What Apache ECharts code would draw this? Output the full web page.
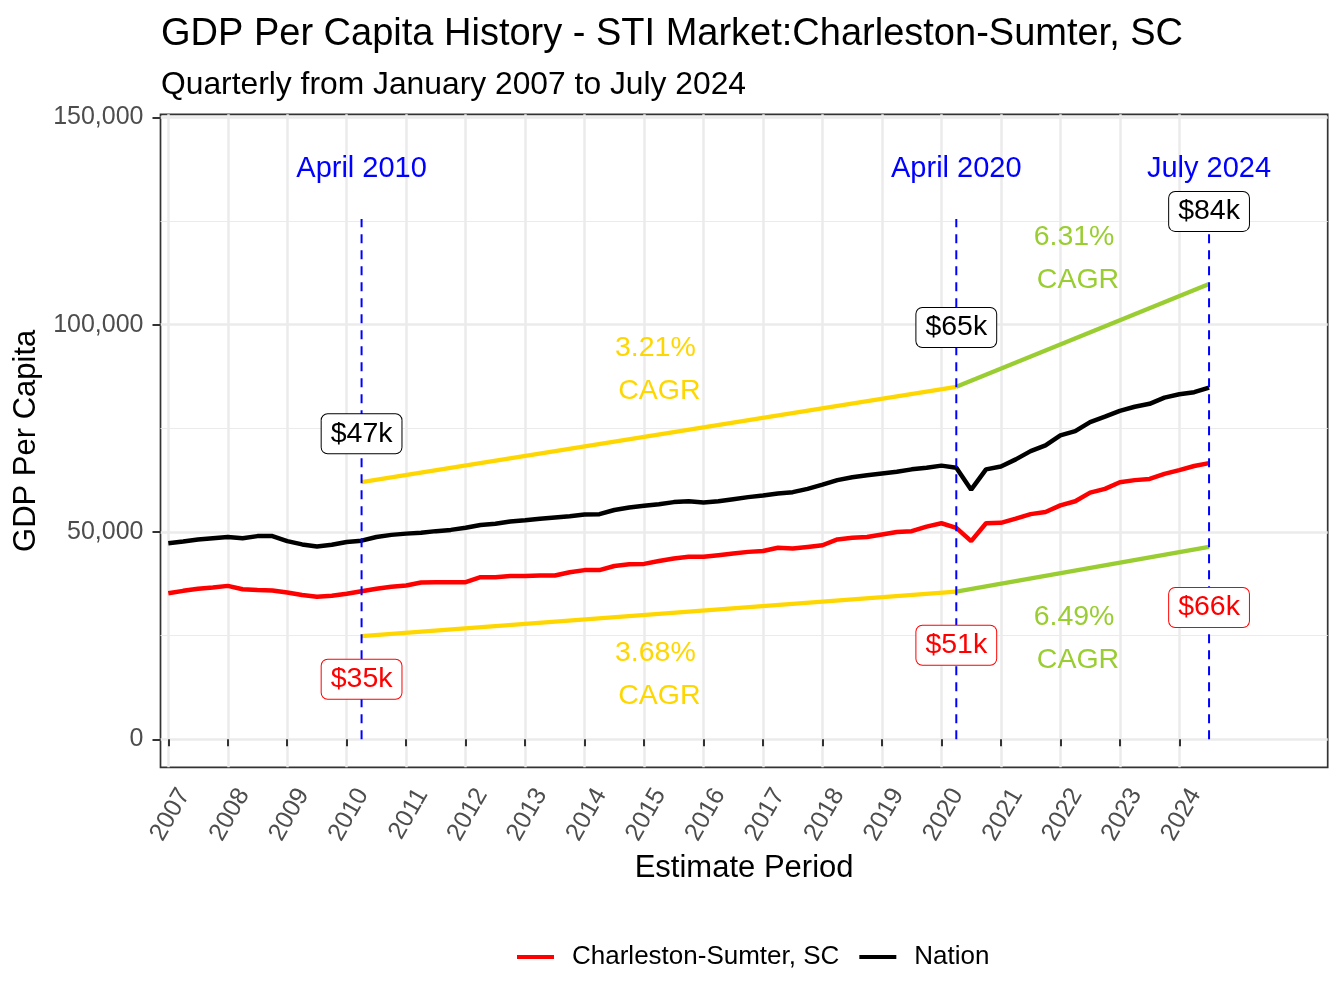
<!DOCTYPE html>
<html>
<head>
<meta charset="utf-8">
<title>GDP Per Capita History</title>
<style>
  html, body { margin: 0; padding: 0; background: #fff; }
  #main { width: 1344px; height: 1008px; }
</style>
</head>
<body>
<div id="main"></div>
<script src="https://cdn.jsdelivr.net/npm/echarts@6/dist/echarts.min.js"></script>
<script>
// series names
var metroName = 'Charleston-Sumter, SC';
var nationName = 'Nation';

// quarterly GDP per capita, Jan 2007 .. Jul 2024
var metroGdp = [
  35200, 35800, 36300, 36600,  37000, 36200, 36000, 35900,
  35400, 34800, 34400, 34600,  35100, 35700, 36300, 36800,
  37100, 37800, 37900, 37900,  37900, 39100, 39100, 39400,
  39400, 39500, 39500, 40300,  40800, 40800, 41800, 42200,
  42300, 43000, 43600, 44000,  44000, 44400, 44800, 45200,
  45400, 46200, 46000, 46400,  46800, 48200, 48600, 48800,
  49400, 50000, 50200, 51300,  52100, 51000, 47800, 52100,
  52200, 53200, 54300, 54800,  56400, 57400, 59500, 60400,
  62000, 62500, 62800, 64000,  64900, 65900, 66600
];
var nationGdp = [
  47300, 47700, 48200, 48500,  48800, 48500, 49000, 49000,
  47800, 47000, 46500, 46900,  47600, 47900, 48800, 49300,
  49600, 49800, 50200, 50500,  51000, 51700, 52000, 52500,
  52800, 53200, 53500, 53800,  54200, 54300, 55300, 55900,
  56300, 56700, 57200, 57400,  57100, 57400, 57900, 58400,
  58800, 59300, 59600, 60400,  61400, 62500, 63200, 63700,
  64100, 64500, 65100, 65500,  66000, 65500, 60200, 65100,
  65800, 67500, 69500, 70900,  73300, 74300, 76500, 77800,
  79200, 80200, 80900, 82400,  83200, 83700, 84800
];

// marker periods (decimal year) and their annotations
var markerDates = [2010.25, 2020.25, 2024.5];
var markerTitles = ['April 2010', 'April 2020', 'July 2024'];
var nationMarks = ['$47k', '$65k', '$84k'];
var metroMarks = ['$35k', '$51k', '$66k'];
var cagrNation = ['3.21%', '6.31%'];
var cagrMetro = ['3.68%', '6.49%'];
// CAGR guide lines (value at each marker date)
var trendUpper = [62000, 85000, 109800];
var trendLower = [24900, 35600, 46400];

// axis ticks
var yearTicks = [2007, 2008, 2009, 2010, 2011, 2012, 2013, 2014, 2015,
                 2016, 2017, 2018, 2019, 2020, 2021, 2022, 2023, 2024];
var yTicks = [0, 50000, 100000, 150000];
var yMinorTicks = [25000, 75000, 125000];

// quarter start dates as decimal years (Jan, Apr, Jul, Oct)
var quarters = [];
yearTicks.forEach(function (y) {
  [0, 0.25, 0.5, 0.75].forEach(function (q) { quarters.push(y + q); });
});
quarters = quarters.slice(0, metroGdp.length);

// label placement (y position in axis units)
var titleY = 137600;
var nationMarkY = [73700, 99300, 127300];
var metroMarkY = [14500, 22700, 31800];
var cagrX = [2015.19, 2022.23];
var cagrUpperY = [89100, 116000];
var cagrLowerY = [15700, 24300];

var xMin = 2006.869, xMax = 2026.495;

var font = 'Liberation Sans, Arial, sans-serif';
var GOLD = '#FFD700', GREEN = '#9ACD32';

function pairs(xs, ys) {
  return xs.map(function (x, i) { return [x, ys[i]]; });
}

function segment(color, a, b) {
  return {
    type: 'line', symbol: 'none', silent: true, z: 3,
    lineStyle: { color: color, width: 4.3 },
    data: [a, b]
  };
}

function textSeries(items, color, boxed, size) {
  return {
    type: 'scatter', silent: true, symbolSize: 1, z: 6,
    itemStyle: { color: 'rgba(0,0,0,0)', opacity: 1 },
    label: {
      show: true, position: 'inside', formatter: '{b}',
      fontFamily: font, fontSize: size, opacity: 1,
      color: color, lineHeight: boxed ? 29 : 43,
      backgroundColor: boxed ? '#fff' : 'transparent',
      borderColor: boxed ? color : 'transparent',
      borderWidth: boxed ? 1 : 0,
      borderRadius: boxed ? 6 : 0,
      padding: boxed ? [5, 9, 5, 9] : 0
    },
    data: items
  };
}

var chart = echarts.init(document.getElementById('main'));

var series = [
  {
    name: metroName, type: 'line', symbol: 'none', z: 2,
    lineStyle: { color: '#ff0000', width: 4.5 }, itemStyle: { color: '#ff0000' },
    data: pairs(quarters, metroGdp)
  },
  {
    name: nationName, type: 'line', symbol: 'none', z: 2,
    lineStyle: { color: '#000000', width: 4.5 }, itemStyle: { color: '#000000' },
    data: pairs(quarters, nationGdp)
  },
  segment(GOLD, [markerDates[0], trendUpper[0]], [markerDates[1], trendUpper[1]]),
  segment(GREEN, [markerDates[1], trendUpper[1]], [markerDates[2], trendUpper[2]]),
  segment(GOLD, [markerDates[0], trendLower[0]], [markerDates[1], trendLower[1]]),
  segment(GREEN, [markerDates[1], trendLower[1]], [markerDates[2], trendLower[2]])
];

markerDates.forEach(function (d) {
  series.push({
    type: 'line', symbol: 'none', silent: true, z: 4,
    lineStyle: { color: '#0000ff', width: 2, type: [9, 7] },
    data: [[d, 0], [d, 125500]]
  });
});

series.push(textSeries(markerDates.map(function (d, i) {
  return { name: markerTitles[i], value: [d, titleY] };
}), '#0000ff', false, 29));
series.push(textSeries(markerDates.map(function (d, i) {
  return { name: nationMarks[i], value: [d, nationMarkY[i]] };
}), '#000000', true, 28.5));
series.push(textSeries(markerDates.map(function (d, i) {
  return { name: metroMarks[i], value: [d, metroMarkY[i]] };
}), '#ff0000', true, 28.5));
series.push(textSeries([
  { name: cagrNation[0] + '\n CAGR', value: [cagrX[0], cagrUpperY[0]] },
  { name: cagrMetro[0] + '\n CAGR', value: [cagrX[0], cagrLowerY[0]] }
], GOLD, false, 28.5));
series.push(textSeries([
  { name: cagrNation[1] + '\n CAGR', value: [cagrX[1], cagrUpperY[1]] },
  { name: cagrMetro[1] + '\n CAGR', value: [cagrX[1], cagrLowerY[1]] }
], GREEN, false, 28.5));

var option = {
  animation: false,
  backgroundColor: '#fff',
  textStyle: { fontFamily: font },
  title: [
    {
      text: 'GDP Per Capita History - STI Market:Charleston-Sumter, SC',
      left: 156, top: 11,
      textStyle: { fontSize: 38, fontWeight: 'normal', color: '#000', fontFamily: font }
    },
    {
      text: 'Quarterly from January 2007 to July 2024',
      left: 156, top: 64,
      textStyle: { fontSize: 31.8, fontWeight: 'normal', color: '#000', fontFamily: font }
    }
  ],
  legend: {
    data: [metroName, nationName],
    left: 512, top: 939,
    icon: 'rect', itemWidth: 37, itemHeight: 4, itemGap: 20,
    textStyle: { fontSize: 26, color: '#000', fontFamily: font, padding: [0, 0, 0, 13] }
  },
  grid: {
    left: 160.5, right: 16.3, top: 114.3, bottom: 240.7,
    show: true, borderColor: '#333333', borderWidth: 1.7, backgroundColor: 'transparent'
  },
  xAxis: {
    type: 'value', min: xMin, max: xMax,
    axisLine: { show: false },
    axisTick: { show: true, length: 7, lineStyle: { color: '#333', width: 2 }, customValues: yearTicks },
    axisLabel: {
      customValues: yearTicks,
      formatter: function (v) { return String(Math.round(v)); },
      rotate: 60, fontSize: 25, color: '#4d4d4d', fontFamily: font,
      margin: 14, verticalAlign: 'top', padding: [6, 0, 0, 0]
    },
    splitLine: { show: true, lineStyle: { color: '#ebebeb', width: 2.5 } },
    name: 'Estimate Period', nameLocation: 'middle', nameGap: 83,
    nameTextStyle: { fontSize: 31, color: '#000', fontFamily: font }
  },
  yAxis: [
    {
      type: 'value', min: -6750, max: 150720,
      axisLine: { show: false },
      axisTick: { show: true, length: 8, lineStyle: { color: '#333', width: 2 }, customValues: yTicks },
      axisLabel: {
        customValues: yTicks, margin: 17,
        formatter: function (v) { return v.toLocaleString('en-US'); },
        fontSize: 25, color: '#4d4d4d', fontFamily: font
      },
      splitLine: { show: true, lineStyle: { color: '#ebebeb', width: 2.5 } },
      name: 'GDP Per Capita', nameLocation: 'middle', nameGap: 111, nameRotate: 90,
      nameTextStyle: { fontSize: 31, color: '#000', fontFamily: font }
    },
    {
      type: 'value', min: -6750, max: 150720, position: 'right',
      axisLine: { show: false },
      axisTick: { show: false, customValues: yMinorTicks },
      axisLabel: { show: false, customValues: yMinorTicks },
      splitLine: { show: true, lineStyle: { color: '#ebebeb', width: 1.2 } }
    }
  ],
  series: series
};

chart.setOption(option);
</script>
</body>
</html>
